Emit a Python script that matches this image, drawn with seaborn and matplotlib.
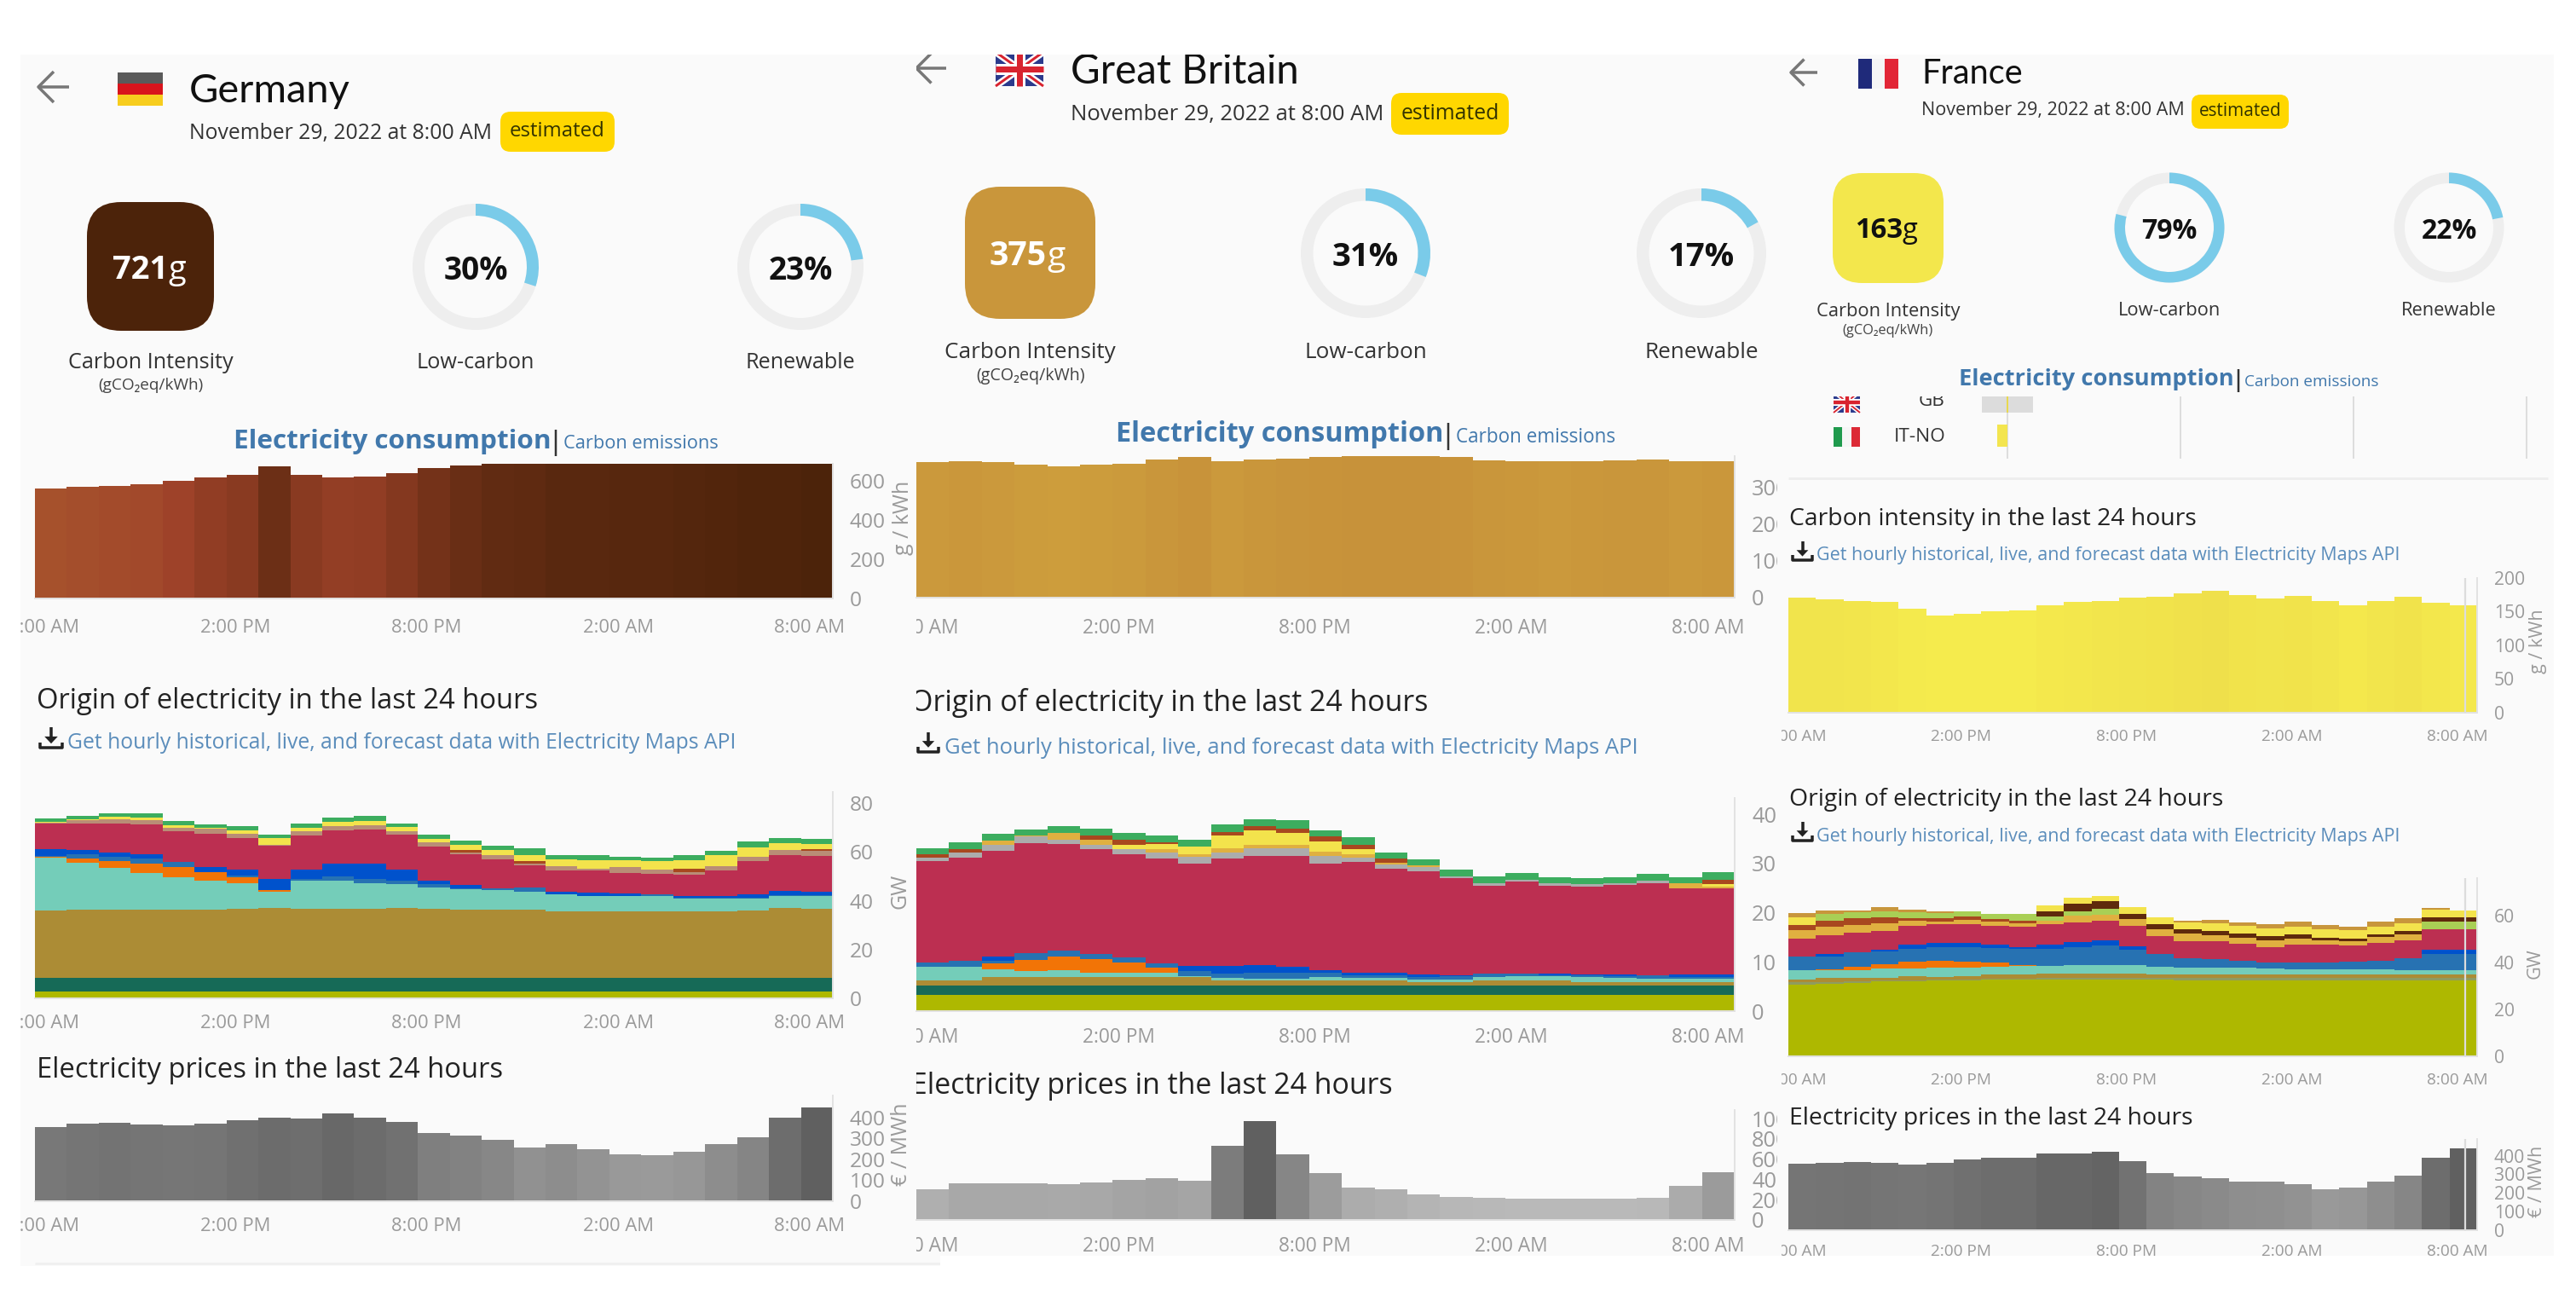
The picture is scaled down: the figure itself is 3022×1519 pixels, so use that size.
import numpy as np
import pandas as pd
import seaborn as sns
import matplotlib
matplotlib.use('Agg')
import matplotlib.pyplot as plt
from matplotlib.colors import LinearSegmentedColormap
from matplotlib.lines import Line2D
from matplotlib.patches import FancyBboxPatch, Rectangle, Wedge, Polygon
from matplotlib.transforms import Affine2D, Bbox

# --- data ---
hours = np.arange(25)
tick_hours = [0, 6, 12, 18, 24]
tick_labels = ['8:00 AM', '2:00 PM', '8:00 PM', '2:00 AM', '8:00 AM']

de_intensity = [560, 570, 575, 580, 598, 618, 630, 674, 630, 616, 620, 640, 664, 676, 690, 695, 700, 700, 705, 705, 710, 712, 715, 718, 721]
gb_intensity = [369, 372, 370, 363, 359, 362, 365, 377, 383, 371, 377, 379, 383, 389, 389, 389, 383, 375, 372, 371, 373, 375, 376, 371, 372]
fr_intensity = [171, 168, 166, 164, 154, 144, 147, 150, 152, 160, 164, 166, 171, 172, 177, 181, 175, 170, 173, 166, 160, 166, 172, 163, 160]

de_price = [355, 368, 374, 366, 361, 368, 385, 400, 393, 419, 400, 379, 327, 314, 293, 256, 271, 247, 224, 221, 234, 271, 303, 398, 449]
gb_price = [300, 358, 358, 358, 350, 366, 393, 409, 389, 735, 977, 650, 463, 323, 304, 253, 230, 222, 214, 214, 214, 214, 222, 339, 475]
fr_price = [358, 362, 366, 360, 354, 364, 379, 389, 387, 411, 411, 423, 371, 305, 288, 278, 263, 259, 246, 221, 229, 263, 291, 389, 440]

# Germany, GW per source, bottom of the stack first
de_nuclear = [2.8] * 25
de_biomass = [5.6] * 25
de_coal = [27.5, 27.9, 27.9, 28.1, 28.1, 28.1, 28.3, 28.7, 28.3, 28.3, 28.3, 28.8, 28.3, 28.1, 28.1, 27.9, 27.2, 27.2, 27.2, 27.2, 27.2, 27.2, 27.5, 28.7, 28.3]
de_wind = [21.8, 19.2, 17.1, 14.9, 13.1, 11.7, 10.6, 6.6, 11.4, 11.7, 10.5, 9.8, 8.9, 8.4, 7.8, 7.5, 7.1, 6.4, 6.2, 6.4, 5.4, 5.4, 5.0, 4.9, 5.2]
de_solar = [0.3, 1.7, 2.9, 3.7, 4.1, 3.5, 2.2, 0.8, 0, 0, 0, 0, 0, 0, 0, 0, 0, 0, 0, 0, 0, 0, 0, 0, 0]
de_hydro = [0.3, 2.0, 1.7, 2.1, 2.3, 0, 0.9, 0, 0.8, 1.5, 1.7, 1.2, 1.4, 0.3, 0.9, 1.5, 0, 0, 0.3, 0.6, 0.2, 0.2, 0.3, 0.4, 0.4]
de_storage = [2.9, 1.5, 1.7, 2.0, 0, 2.0, 2.3, 4.4, 3.8, 5.5, 6.4, 4.7, 1.4, 1.2, 0, 0, 0.9, 1.2, 0.8, 0, 0.9, 0.9, 1.4, 1.5, 1.4]
de_gas = [10.3, 11.1, 11.9, 12.1, 12.6, 13.8, 13.1, 13.8, 14.2, 13.5, 13.8, 14.2, 13.8, 12.8, 11.7, 9.1, 9.0, 9.4, 8.4, 8.4, 8.6, 10.5, 13.8, 14.9, 14.7]
de_mauve = [0.6, 1.3, 1.7, 1.7, 1.2, 2.0, 1.7, 0.3, 1.5, 1.7, 1.7, 1.5, 1.7, 0.6, 1.7, 0.8, 1.7, 0.6, 2.4, 1.9, 1.2, 1.7, 1.7, 2.2, 2.0]
de_brown = [0, 0, 0, 0, 0, 0, 0, 0, 0, 0, 0, 0, 0, 1.2, 0, 1.2, 0, 0, 0, 0, 1.2, 0, 0, 0, 0.9]
de_yellow = [0.2, 0.3, 1.2, 1.2, 1.2, 0.3, 1.5, 2.6, 1.6, 1.7, 1.9, 1.7, 1.6, 1.9, 2.3, 2.4, 2.6, 3.5, 2.9, 3.3, 3.6, 4.3, 3.8, 2.7, 2.1]
de_green = [1.4, 1.5, 1.5, 1.7, 1.7, 1.5, 1.7, 1.4, 1.5, 1.7, 2.0, 1.4, 1.5, 1.9, 1.7, 2.6, 1.7, 2.0, 1.5, 1.6, 2.2, 2.0, 2.3, 2.0, 2.0]

# Great Britain
gb_nuclear = [3.35] * 25
gb_biomass = [1.9] * 25
gb_coal = [1.0, 1.0, 1.6, 1.6, 1.6, 1.6, 1.6, 1.6, 1.6, 1.0, 0.9, 0.9, 1.0, 0.9, 0.9, 0.7, 0.7, 1.0, 0.9, 0.9, 0.6, 0.6, 0.6, 0.6, 0.6]
gb_wind = [2.8, 2.7, 1.7, 1.3, 1.4, 1.0, 1.0, 1.0, 0.3, 0.5, 0.5, 0.5, 0.7, 0.6, 0.6, 0.4, 0.5, 0.7, 0.9, 0.9, 1.0, 0.9, 0.8, 0.7, 0.7]
gb_solar = [0, 0, 1.2, 2.2, 2.8, 2.7, 2.1, 1.0, 0, 0, 0, 0, 0, 0, 0, 0, 0, 0, 0, 0, 0, 0, 0, 0, 0]
gb_hydro = [0.9, 1.3, 0.5, 1.4, 1.2, 1.0, 0.9, 0.9, 1.0, 0.8, 1.1, 1.1, 0.8, 0.6, 0.6, 0.6, 0.6, 0.6, 0.6, 0.2, 0.4, 0.4, 0.7, 0.3, 0.3]
gb_storage = [0, 0, 0.9, 0, 0, 0, 0, 0, 1.0, 1.7, 1.6, 1.2, 0.6, 0.5, 0.5, 0.5, 0.3, 0, 0, 0.3, 0.2, 0.3, 0, 0.6, 0.6]
gb_gas = [20.5, 20.9, 21.4, 22.3, 21.7, 21.4, 21.1, 21.2, 20.9, 21.7, 22.1, 22.5, 21.7, 22.4, 21.0, 21.0, 19.7, 17.9, 18.6, 17.9, 17.9, 18.1, 18.7, 17.5, 17.5]
gb_unknown = [0.7, 1.1, 1.3, 1.5, 0.9, 0.8, 1.0, 1.2, 1.3, 1.3, 1.6, 1.6, 1.4, 1.0, 1.0, 0.9, 0.3, 0.6, 0.5, 0.5, 0.4, 0.5, 0.4, 0, 0]
gb_gold = [0, 0, 0.8, 0.2, 1.3, 1.0, 0, 0.8, 0.6, 0.8, 0.8, 0.8, 0.9, 0.7, 0.3, 0.3, 0, 0, 0, 0, 0, 0, 0, 1.0, 0.3]
gb_yellow = [0, 0, 0, 0, 0, 0, 0.9, 1.0, 1.4, 2.6, 2.8, 2.4, 2.1, 1.0, 0, 0, 0, 0, 0, 0, 0, 0, 0, 0, 0.6]
gb_brown = [0.7, 0.7, 0, 0, 0, 1.0, 0.9, 0.4, 0, 0.7, 0.9, 0.9, 1.0, 0.9, 0.8, 0, 0, 0, 0, 0, 0, 0, 0, 0, 0.9]
gb_green = [1.2, 1.4, 1.4, 1.2, 1.4, 1.4, 1.5, 1.3, 1.5, 1.6, 1.4, 1.6, 1.3, 1.4, 1.3, 1.2, 1.4, 1.3, 1.3, 1.2, 1.2, 1.2, 1.4, 1.3, 1.4]

# France
fr_nuclear = [30.6, 30.9, 31.2, 32.0, 32.0, 32.2, 32.4, 32.6, 32.7, 32.8, 32.8, 32.8, 32.8, 32.6, 32.4, 32.4, 32.4, 32.4, 32.4, 32.4, 32.4, 32.4, 32.4, 32.4, 32.4]
fr_biomass = [0.9, 0.8, 0.7, 0.3, 0.4, 0.4, 0.4, 0.5, 0.5, 0.5, 0.5, 0.5, 0.5, 1.0, 1.0, 1.0, 1.0, 1.0, 1.0, 1.0, 1.0, 1.0, 1.0, 1.0, 1.0]
fr_coal = [1.2, 1.6, 1.7, 1.0, 1.8, 1.4, 1.4, 1.9, 1.8, 1.9, 1.9, 1.9, 1.9, 1.4, 1.4, 1.4, 1.4, 1.4, 1.4, 1.4, 1.4, 1.4, 1.4, 1.4, 1.4]
fr_wind = [4.0, 3.3, 3.3, 4.1, 3.3, 3.9, 3.6, 3.2, 3.4, 3.4, 3.6, 3.6, 3.6, 3.3, 3.2, 3.0, 3.0, 2.5, 2.4, 2.2, 2.2, 2.2, 1.9, 1.8, 1.8]
fr_solar = [0, 0.5, 1.2, 1.9, 3.0, 3.0, 2.7, 1.7, 0.6, 0, 0, 0, 0, 0, 0, 0, 0, 0, 0, 0, 0, 0, 0, 0, 0]
fr_hydro = [5.7, 5.5, 6.3, 5.3, 5.5, 5.7, 6.1, 6.4, 6.7, 7.3, 7.6, 8.5, 6.7, 5.2, 3.9, 3.8, 2.8, 2.7, 2.8, 3.0, 3.4, 3.9, 5.3, 7.0, 7.0]
fr_storage = [0, 1.2, 0, 1.0, 1.6, 1.8, 1.8, 1.2, 1.0, 1.8, 2.4, 2.2, 1.5, 0, 0, 0, 0, 0, 0, 0, 0, 0, 0, 1.8, 1.8]
fr_gas = [7.9, 7.9, 8.2, 7.9, 7.9, 7.9, 7.9, 8.2, 8.4, 8.5, 8.2, 8.5, 8.5, 7.9, 7.3, 7.5, 7.5, 6.4, 7.6, 7.6, 6.9, 7.6, 7.6, 8.7, 8.7]
fr_gold = [3.6, 3.4, 3.4, 3.3, 2.2, 1.3, 1.9, 1.8, 1.8, 1.8, 2.9, 2.4, 3.0, 2.9, 3.3, 2.7, 2.4, 2.9, 2.7, 1.7, 1.8, 2.4, 2.4, 0, 0]
fr_brown = [2.2, 2.7, 2.9, 2.4, 1.2, 1.2, 1.5, 1.2, 1.0, 0, 0, 0, 0, 0, 0, 0, 0, 0, 0, 0, 0, 0, 0, 0, 0]
fr_lime = [0, 2.8, 2.5, 2.8, 2.4, 2.4, 2.2, 2.1, 2.7, 1.8, 1.9, 2.4, 0, 0, 0, 0, 0, 0, 0, 0, 0, 0, 0, 3.2, 3.2]
fr_dark = [0, 0, 0, 0, 0, 0, 0, 0, 0, 2.2, 3.3, 3.3, 2.4, 2.2, 1.8, 1.8, 1.8, 1.9, 1.6, 1.2, 1.2, 1.2, 1.6, 1.8, 1.8]
fr_yellow = [3.3, 0, 0, 0, 0, 0, 0, 0, 0, 2.3, 2.4, 2.4, 2.7, 2.7, 2.8, 3.0, 3.3, 3.5, 3.5, 3.6, 3.4, 3.0, 3.3, 3.3, 3.0]
fr_tan = [1.8, 1.5, 0.8, 1.5, 1.2, 0.6, 0, 0, 0, 0, 0, 0, 0, 0, 0.8, 1.6, 1.6, 1.8, 1.9, 1.8, 1.7, 2.2, 2.1, 1.0, 0]

source_colors = {
    'nuclear': '#aeb800', 'biomass': '#166a57', 'mixed': '#8f9c60', 'coal': '#ac8c35', 'wind': '#74cdb9',
    'solar': '#f27406', 'hydro': '#2772b2', 'storage': '#0052cc', 'gas': '#bc2f51',
    'unknown': '#acacac', 'mauve': '#b98d76', 'tan': '#c8963c', 'gold': '#e0b040', 'yellow': '#f3e34c',
    'brown': '#a8481f', 'lime': '#a9cf55', 'dark': '#5f2a0c', 'green': '#3cad5f',
}

# --- setup ---
W, H = 3022, 1519
sns.set_theme(style='white')
plt.rcParams['font.family'] = ['Open Sans', 'DejaVu Sans']
fig = plt.figure(figsize=(W / 100, H / 100), dpi=100, facecolor='white')
# pixel coordinates with y going down, same as the screenshot
tr = Affine2D().scale(1, -1).translate(0, H)

intensity_cmap = LinearSegmentedColormap.from_list('co2', [
    (0, '#2aa364'), (100 / 1000, '#f5eb4d'), (150 / 1000, '#f5eb4d'), (600 / 1000, '#9e4229'),
    (725 / 1000, '#4a2209'), (1, '#381d02')])
price_cmap = LinearSegmentedColormap.from_list('price', ['#d2d2d2', '#606060'])

TICK_GREY = '#e2e2e2'
LABEL_GREY = '#9a9a9a'
LINK_BLUE = '#5b8dbb'
HEAD_BLUE = '#4178ac'
ARC_BLUE = '#7acbe9'


def px(size):
    return size * 0.72


class Panel:
    def __init__(self, box, z, s, label_shift=0.27):
        self.box = box
        self.z = z
        self.s = s
        self.label_shift = label_shift
        x0, y0, x1, y1 = box
        self.clip = Bbox.from_extents(x0, H - y1, x1, H - y0)
        fig.add_artist(Rectangle((x0, y0), x1 - x0, y1 - y0, transform=tr, fc='#fafafa', ec='none', zorder=z))

    def art(self, a):
        a.set_zorder(self.z + 1)
        fig.add_artist(a)
        a.set_clip_path(None)
        a.set_clip_box(self.clip)
        a.set_clip_on(True)
        return a

    def text(self, x, y, s, size, color='#222222', ha='left', va='center', weight='normal', family=None, rotation=0):
        t = fig.text(x, y, s, transform=tr, fontsize=px(size * self.s), color=color, ha=ha, va=va,
                     fontweight=weight, rotation=rotation, zorder=self.z + 2)
        if family:
            t.set_family(family)
        t.set_clip_box(self.clip)
        t.set_clip_on(True)
        return t

    def rect(self, x0, y0, x1, y1, color):
        return self.art(Rectangle((x0, y0), x1 - x0, y1 - y0, transform=tr, fc=color, ec='none'))

    def round_box(self, x0, y0, x1, y1, r, color):
        return self.art(FancyBboxPatch((x0, y0), x1 - x0, y1 - y0, boxstyle=f'round,pad=0,rounding_size={r}',
                                       transform=tr, fc=color, ec='none'))

    def line(self, xs, ys, color, lw):
        return self.art(Line2D(xs, ys, transform=tr, color=color, lw=px(lw), solid_capstyle='butt'))

    def ring(self, cx, cy, r, w, frac, label, label_y, size):
        self.art(Wedge((cx, cy), r, 0, 360, width=w, transform=tr, fc='#eeeeee', ec='none'))
        self.art(Wedge((cx, cy), r, -90, -90 + 360 * frac, width=w, transform=tr, fc=ARC_BLUE, ec='none'))
        self.text(cx, cy + 5, f'{round(frac * 100)}%', size, color='#111111', ha='center', weight='bold')
        self.text(cx, label_y + 2, label, 25.3, ha='center', color='#333333')

    def arrow(self, x0, x1, y):
        h = (x1 - x0) * 0.5
        self.line([x0, x1], [y, y], '#777777', 3.5)
        self.line([x0 + h, x0, x0 + h], [y - h, y, y + h], '#777777', 3.5)

    def download(self, x0, x1, y):
        m = (x0 + x1) / 2
        w = x1 - x0
        self.line([m, m], [y - w * 0.55, y], '#222222', 3.5)
        self.art(Polygon([[m - w * 0.3, y - w * 0.12], [m + w * 0.3, y - w * 0.12], [m, y + w * 0.2]],
                         transform=tr, fc='#222222', ec='none'))
        self.line([x0, x0, x1, x1], [y + w * 0.15, y + w * 0.4, y + w * 0.4, y + w * 0.15], '#222222', 3.5)

    def chart(self, left, right, top, bottom, xmin, ymax, yticks):
        # axes placed by screenshot pixels, values come through its own scales
        return fig.add_axes([left / W, 1 - bottom / H, (right - left) / W, (bottom - top) / H],
                            facecolor='none', zorder=self.z + 2), xmin, ymax, yticks

    def finish(self, spec, hover=None, label_pad=19):
        ax, xmin, ymax, yticks = spec
        ax.set_xlim(xmin, 25)
        ax.set_ylim(0, ymax)
        ax.set_xlabel('')
        ax.set_ylabel('')
        ax.set_xticks(np.array(tick_hours) + self.label_shift, tick_labels)
        ax.set_xticks(np.arange(26), minor=True)
        ax.yaxis.tick_right()
        ax.set_yticks(yticks)
        ax.set_yticks([ymax], minor=True)
        ax.tick_params(axis='x', which='major', length=0, pad=px(label_pad), labelsize=px(22 * self.s), labelcolor=LABEL_GREY)
        ax.tick_params(axis='x', which='minor', length=px(12), width=1.2, color=TICK_GREY, direction='out')
        ax.tick_params(axis='y', which='both', length=px(11), width=1.2, color=TICK_GREY, pad=px(9),
                       labelsize=px(24.5 * self.s), labelcolor=LABEL_GREY)
        sns.despine(ax=ax, left=True, top=True, right=False)
        for side in ('bottom', 'right'):
            ax.spines[side].set_color(TICK_GREY)
            ax.spines[side].set_linewidth(1.4)
        if hover is not None:
            ax.axvline(hover, color='#dcdcdc', lw=1.6, zorder=5)
        for lab in ax.get_xticklabels() + ax.get_yticklabels():
            lab.set_clip_box(self.clip)
            lab.set_clip_on(True)


def bars(spec, values, cmap, norm):
    df = pd.DataFrame({'x': hours + 0.5, 'y': values, 'c': values})
    sns.barplot(data=df, x='x', y='y', hue='c', palette=cmap, hue_norm=norm, native_scale=True, width=1,
                dodge=False, saturation=1, errorbar=None, legend=False, linewidth=0, antialiased=False, ax=spec[0])


def stack(spec, layers):
    # layers: name -> values, bottom of the stack first
    df = pd.concat([pd.DataFrame({'x': hours + 0.5, 'gw': v, 'source': k}) for k, v in layers.items()])
    sns.histplot(data=df, x='x', weights='gw', hue='source', hue_order=list(layers)[::-1], multiple='stack',
                 bins=25, binrange=(0, 25), element='step', palette=source_colors, alpha=1, linewidth=0,
                 legend=False, ax=spec[0])


def flag(p, kind, x0, y0, x1, y1):
    if kind == 'de':
        for i, c in enumerate(['#5a5a5a', '#d8141c', '#f7cd1e']):
            p.rect(x0, y0 + i * (y1 - y0) / 3, x1, y0 + (i + 1) * (y1 - y0) / 3, c)
    elif kind == 'gb':
        union_jack(p, x0, y0, x1, y1)
    else:
        cols = ['#1f2a7a', '#f5f5f5', '#e22636'] if kind == 'fr' else ['#1f9a4d', '#f5f5f5', '#dc2a36']
        for i, c in enumerate(cols):
            p.rect(x0 + i * (x1 - x0) / 3, y0, x0 + (i + 1) * (x1 - x0) / 3, y1, c)


def header(p, name, date_x, date_y, name_y, badge, size_name, arrow):
    p.arrow(arrow[0], arrow[1], arrow[2])
    p.text(date_x, name_y, name, size_name, color='#111111', family=['Lato', 'DejaVu Sans'])
    p.text(date_x, date_y, 'November 29, 2022 at 8:00 AM', 24.8, color='#333333')
    p.round_box(badge[0], badge[1], badge[2], badge[3], 12 * p.s, '#ffd700')
    p.text((badge[0] + badge[2]) / 2, (badge[1] + badge[3]) / 2, 'estimated', 24, color='#333300', ha='center')


def union_jack(p, x0, y0, x1, y1):
    sc = (y1 - y0) / 40
    p.rect(x0, y0, x1, y1, '#2b3a8c')
    p.line([x0, x1], [y0, y1], 'white', 8 * sc)
    p.line([x0, x1], [y1, y0], 'white', 8 * sc)
    p.line([x0, x1], [y0, y1], '#d8232f', 3 * sc)
    p.line([x0, x1], [y1, y0], '#d8232f', 3 * sc)
    xm, ym = (x0 + x1) / 2, (y0 + y1) / 2
    p.line([xm, xm], [y0, y1], 'white', 13 * sc)
    p.line([x0, x1], [ym, ym], 'white', 13 * sc)
    p.line([xm, xm], [y0, y1], '#d8232f', 7 * sc)
    p.line([x0, x1], [ym, ym], '#d8232f', 7 * sc)


def intensity_box(p, x0, y0, x1, y1, value, anchor, base, size, label_y, sub_y, txt='white'):
    p.round_box(x0, y0, x1, y1, 40 * p.s, intensity_cmap(value / 1000))
    p.text(anchor, base, str(value), size, color=txt, ha='right', va='baseline', weight='bold')
    p.text(anchor, base, 'g', size, color=txt, va='baseline')
    cx = (x0 + x1) / 2
    p.text(cx, label_y + 2, 'Carbon Intensity', 25.3, ha='center', color='#333333')
    p.text(cx, sub_y, '(gCO₂eq/kWh)', 19, ha='center', color='#444444')


def tabs(p, x, y, bar_x, em_x):
    p.text(x, y, 'Electricity consumption', 31.5, color=HEAD_BLUE, weight='bold')
    p.line([bar_x, bar_x], [y - 14 * p.s, y + 17 * p.s], '#333333', 2.5)
    p.text(em_x, y + 3, 'Carbon emissions', 21.8, color=HEAD_BLUE)


API = 'Get hourly historical, live, and forecast data with Electricity Maps API'
TITLE = 32.8
YLAB = 25

# --- Germany ---
de = Panel((24, 64, 1103, 1485), 10, 1.0)
flag(de, 'de', 138, 85, 191, 124)
header(de, 'Germany', 222, 157, 107, (587, 131, 721, 178), 47, (45, 81, 102))
intensity_box(de, 102, 237, 251, 388, 721, 197, 327, 38, 423, 452)
de.ring(558, 313, 74, 14, 0.30, 'Low-carbon', 423, 37)
de.ring(939, 313, 74, 14, 0.23, 'Renewable', 423, 37)
tabs(de, 274, 518, 652, 661)

c = de.chart(41, 977, 544, 702, 0, 686, [0, 200, 400, 600])
bars(c, de_intensity, intensity_cmap, (0, 1000))
de.finish(c, label_pad=24)
de.text(1060, 607, 'g / kWh', YLAB, color=LABEL_GREY, ha='center', rotation=90)

de.text(43, 822, 'Origin of electricity in the last 24 hours', TITLE)
de.download(47, 73, 867)
de.text(79, 872, API, 24.8, color=LINK_BLUE)
c = de.chart(41, 977, 929, 1171, 0, 84.6, [0, 20, 40, 60, 80])
stack(c, {'nuclear': de_nuclear, 'biomass': de_biomass, 'coal': de_coal, 'wind': de_wind, 'solar': de_solar,
          'hydro': de_hydro, 'storage': de_storage, 'gas': de_gas, 'mauve': de_mauve, 'brown': de_brown,
          'yellow': de_yellow, 'green': de_green})
de.finish(c)
de.text(1056, 1045, 'GW', YLAB, color=LABEL_GREY, ha='center', rotation=90)

de.text(43, 1255, 'Electricity prices in the last 24 hours', TITLE)
c = de.chart(41, 977, 1285, 1409, 0, 504, [0, 100, 200, 300, 400])
bars(c, de_price, price_cmap, (0, max(de_price)))
de.finish(c)
de.text(1058, 1342, '€ / MWh', YLAB, color=LABEL_GREY, ha='center', rotation=90)
de.line([41, 1103], [1482, 1482], '#f0f0f0', 3)

# --- Great Britain ---
gb = Panel((1075, 64, 2085, 1473), 20, 1.034, label_shift=0.18)
flag(gb, 'gb', 1168, 61, 1224, 101)
header(gb, 'Great Britain', 1256, 135, 84, (1632, 109, 1770, 158), 46, (1075, 1110, 80))
intensity_box(gb, 1132, 219, 1285, 374, 375, 1228, 311, 38, 411, 441)
gb.ring(1602, 297, 76, 14.5, 0.31, 'Low-carbon', 411, 37)
gb.ring(1996, 297, 76, 14.5, 0.17, 'Renewable', 411, 37)
tabs(gb, 1309, 510, 1699, 1708)

c = gb.chart(1075, 2035, 535, 701, 0.21, 386, [0, 100, 200, 300])
bars(c, gb_intensity, intensity_cmap, (0, 1000))
gb.finish(c, label_pad=24)

gb.text(1068, 824, 'Origin of electricity in the last 24 hours', TITLE)
gb.download(1077, 1101, 872)
gb.text(1108, 877, API, 24.8, color=LINK_BLUE)
c = gb.chart(1075, 2035, 936, 1186, 0.21, 43.3, [0, 10, 20, 30, 40])
stack(c, {'nuclear': gb_nuclear, 'biomass': gb_biomass, 'coal': gb_coal, 'wind': gb_wind, 'solar': gb_solar,
          'hydro': gb_hydro, 'storage': gb_storage, 'gas': gb_gas, 'unknown': gb_unknown, 'gold': gb_gold,
          'yellow': gb_yellow, 'brown': gb_brown, 'green': gb_green})
gb.finish(c)

gb.text(1069, 1274, 'Electricity prices in the last 24 hours', TITLE)
c = gb.chart(1075, 2035, 1302, 1431, 0.21, 1085, [0, 200, 400, 600, 800, 1000])
bars(c, gb_price, price_cmap, (0, max(gb_price)))
gb.finish(c)

# --- France ---
fr = Panel((2085, 64, 2996, 1473), 30, 0.865)
# the first tick label is cut a bit further in than the panel's own edge
fr.clip = Bbox.from_extents(2090, H - 1478, 2996, H - 64)
flag(fr, 'fr', 2180, 69, 2227, 104)
header(fr, 'France', 2254, 130, 86, (2571, 111, 2685, 151), 46, (2101, 2132, 85))
intensity_box(fr, 2150, 203, 2280, 332, 163, 2232, 279, 38, 363, 388, txt='#111111')
fr.ring(2545, 267, 64.5, 12.5, 0.79, 'Low-carbon', 363, 37)
fr.ring(2873, 267, 64.5, 12.5, 0.22, 'Renewable', 363, 37)
tabs(fr, 2298, 445, 2626, 2633)

# exchange rows scrolled partly out of view under the tabs
ex_clip = Bbox.from_extents(2086, H - 1473, 2996, H - 465)
ex_start = len(fig.artists)
for gx in (2355, 2558, 2761, 2964):
    fr.line([gx, gx], [465, 538], '#dddddd', 2)
fr.rect(2325, 465, 2385, 484, '#dcdcdc')
fr.rect(2354, 465, 2356, 484, '#e8d850')
fr.rect(2343, 498, 2355, 524, '#f3e54f')
flag(fr, 'gb', 2151, 459, 2182, 484)
flag(fr, 'it', 2151, 501, 2182, 524)
fr.text(2282, 471, 'GB', 26, ha='right', color='#333333').set_clip_box(ex_clip)
fr.text(2282, 512, 'IT-NO', 26, ha='right', color='#333333')
for a in fig.artists[ex_start:]:
    a.set_clip_box(ex_clip)
fr.line([2098, 2989], [561, 561], '#eeeeee', 3)

hover_x = 24.58
fr.text(2099, 609, 'Carbon intensity in the last 24 hours', TITLE)
fr.download(2103, 2126, 648)
fr.text(2131, 652, API, 24.8, color=LINK_BLUE)
c = fr.chart(2098, 2906, 678, 836, 0, 200, [0, 50, 100, 150, 200])
bars(c, fr_intensity, intensity_cmap, (0, 1000))
fr.finish(c, hover_x)
fr.text(2977, 752, 'g / kWh', YLAB, color=LABEL_GREY, ha='center', rotation=90)

fr.text(2099, 938, 'Origin of electricity in the last 24 hours', TITLE)
fr.download(2103, 2126, 977)
fr.text(2131, 981, API, 24.8, color=LINK_BLUE)
c = fr.chart(2098, 2906, 1030, 1239, 0, 76, [0, 20, 40, 60])
stack(c, {'nuclear': fr_nuclear, 'mixed': fr_biomass, 'coal': fr_coal, 'wind': fr_wind, 'solar': fr_solar,
          'hydro': fr_hydro, 'storage': fr_storage, 'gas': fr_gas, 'gold': fr_gold, 'brown': fr_brown,
          'lime': fr_lime, 'dark': fr_dark, 'yellow': fr_yellow, 'tan': fr_tan})
fr.finish(c, hover_x)
fr.text(2974, 1130, 'GW', YLAB, color=LABEL_GREY, ha='center', rotation=90)

fr.text(2099, 1312, 'Electricity prices in the last 24 hours', TITLE)
c = fr.chart(2098, 2906, 1336, 1443, 0, 490, [0, 100, 200, 300, 400])
bars(c, fr_price, price_cmap, (0, max(fr_price)))
fr.finish(c, hover_x, label_pad=16)
fr.text(2977, 1386, '€ / MWh', YLAB, color=LABEL_GREY, ha='center', rotation=90)

fig.savefig('out.png', dpi=100, facecolor='white')
